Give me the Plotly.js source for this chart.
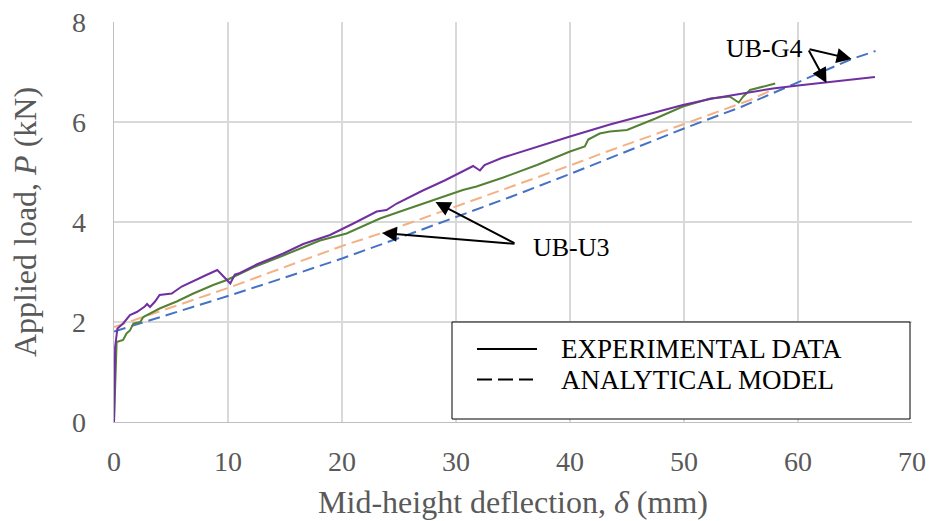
<!DOCTYPE html>
<html>
<head>
<meta charset="utf-8">
<script src="https://cdn.plot.ly/plotly-3.0.1.min.js"></script>
<style>html,body{margin:0;padding:0;background:#fff;}#chart{width:930px;height:521px;}</style>
</head>
<body>
<div id="chart"></div>
<script>
// UB-G4 experimental (purple)
const g4ExpX = [0, 0.05, 0.1, 0.3, 0.8, 1.4, 2.0, 2.7, 2.9, 3.16, 3.6, 4.0, 5.06, 5.94, 7.25, 8.1, 9.06, 10.2, 10.6, 11.05, 12.5, 14.85, 16.6, 18.95, 21.0, 23.04, 23.9, 24.8, 27.0, 29.0, 31.08, 31.5, 32.1, 32.5, 34.0, 36.2, 38.0, 40.0, 43.5, 46.0, 49.9, 52.5, 55.8, 57.8, 60.0, 62.5, 64.5, 66.75];
const g4ExpY = [0, 0.8, 1.5, 1.87, 1.97, 2.14, 2.2, 2.31, 2.36, 2.30, 2.41, 2.54, 2.57, 2.71, 2.84, 2.94, 3.04, 2.77, 2.95, 2.98, 3.15, 3.37, 3.56, 3.74, 3.97, 4.21, 4.24, 4.37, 4.62, 4.83, 5.07, 5.12, 5.03, 5.14, 5.28, 5.44, 5.57, 5.71, 5.95, 6.1, 6.34, 6.47, 6.6, 6.67, 6.73, 6.79, 6.84, 6.9];
// UB-U3 experimental (green)
const u3ExpX = [0, 0.1, 0.2, 0.23, 0.8, 1.1, 1.4, 1.7, 2.3, 2.57, 4.0, 5.5, 6.96, 8.7, 9.9, 11.05, 12.5, 14.85, 16.6, 18.07, 20.4, 23.33, 25.1, 28.0, 29.2, 30.6, 31.8, 34.15, 37.1, 40.0, 41.3, 41.6, 42.6, 43.5, 45.0, 47.5, 49.9, 52.3, 54.0, 54.8, 55.2, 55.8, 58.0];
const u3ExpY = [0, 0.78, 1.5, 1.6, 1.64, 1.77, 1.83, 1.97, 2.0, 2.1, 2.27, 2.41, 2.57, 2.74, 2.84, 2.96, 3.12, 3.33, 3.49, 3.63, 3.77, 4.07, 4.21, 4.44, 4.54, 4.64, 4.71, 4.89, 5.14, 5.41, 5.51, 5.65, 5.77, 5.81, 5.84, 6.07, 6.31, 6.47, 6.51, 6.39, 6.51, 6.64, 6.77];
// UB-U3 analytical (orange dashed)
const u3ModX = [0, 5, 10, 16.3, 20, 23.5, 30.8, 35, 40, 43.5, 50, 55.8, 57.8];
const u3ModY = [1.9, 2.29, 2.68, 3.21, 3.52, 3.78, 4.37, 4.72, 5.13, 5.43, 5.96, 6.44, 6.65];
// UB-G4 analytical (blue dashed)
const g4ModX = [0, 5, 10, 15, 20, 25, 30, 35, 40, 45, 50, 55, 60, 64.6, 66.8];
const g4ModY = [1.81, 2.16, 2.52, 2.89, 3.27, 3.68, 4.1, 4.52, 4.96, 5.41, 5.87, 6.3, 6.8, 7.25, 7.42];

const xTicks = [0, 10, 20, 30, 40, 50, 60, 70];
const yTicks = [0, 2, 4, 6, 8];
const legendLabels = ["EXPERIMENTAL DATA", "ANALYTICAL MODEL"];

const FONT = '"Liberation Serif", "Times New Roman", serif';
const W = 930, H = 521, L = 114, R = 18, T = 22, B = 99;
const pw = W - L - R, ph = H - T - B;
const px = v => (v - L) / pw;         // pixel x -> paper
const py = v => (H - B - v) / ph;     // pixel y -> paper

const traces = [
  {x: u3ModX, y: u3ModY, mode: 'lines', line: {color: '#f4b183', width: 2, dash: '12px,6px'}, showlegend: false, hoverinfo: 'skip'},
  {x: g4ModX, y: g4ModY, mode: 'lines', line: {color: '#4472c4', width: 2, dash: '12px,6px'}, showlegend: false, hoverinfo: 'skip'},
  {x: u3ExpX, y: u3ExpY, mode: 'lines', line: {color: '#548235', width: 2}, showlegend: false},
  {x: g4ExpX, y: g4ExpY, mode: 'lines', line: {color: '#7030a0', width: 2}, showlegend: false}
];

const arrow = (x, y, ax, ay) => ({x, y, ax, ay, xref: 'x', yref: 'y', axref: 'x', ayref: 'y', text: '', showarrow: true, arrowhead: 2, arrowsize: 1.5, arrowwidth: 2, arrowcolor: '#000'});

const layout = {
  width: W, height: H,
  margin: {l: L, r: R, t: T, b: B},
  paper_bgcolor: '#fff', plot_bgcolor: '#fff',
  font: {family: FONT, color: '#595959'},
  showlegend: false,
  xaxis: {
    range: [0, 70], tickvals: xTicks, ticktext: xTicks.map(String),
    showgrid: true, gridcolor: '#d9d9d9', gridwidth: 1.3,
    showline: true, linecolor: '#bfbfbf', linewidth: 1.3, mirror: false,
    zeroline: false, ticks: '', ticklabelstandoff: 14,
    tickfont: {family: FONT, size: 28, color: '#595959'},
    title: {text: 'Mid-height deflection, <i>δ</i> (mm)', font: {family: FONT, size: 32, color: '#595959'}, standoff: 14}
  },
  yaxis: {
    range: [0, 8], tickvals: yTicks, ticktext: yTicks.map(String),
    showgrid: true, gridcolor: '#d9d9d9', gridwidth: 1.3,
    showline: true, linecolor: '#bfbfbf', linewidth: 1.3,
    zeroline: false, ticks: '', ticklabelstandoff: 21,
    tickfont: {family: FONT, size: 28, color: '#595959'},
    title: {text: 'Applied load, <i>P</i> (kN)', font: {family: FONT, size: 32, color: '#595959'}, standoff: 26}
  },
  shapes: [
    {type: 'rect', xref: 'paper', yref: 'paper', x0: px(452), x1: px(910), y0: py(419), y1: py(322), line: {color: '#000', width: 1}, fillcolor: '#fff', layer: 'above'},
    {type: 'line', xref: 'paper', yref: 'paper', x0: px(477), x1: px(537), y0: py(349), y1: py(349), line: {color: '#000', width: 2}},
    {type: 'line', xref: 'paper', yref: 'paper', x0: px(477), x1: px(533), y0: py(379.5), y1: py(379.5), line: {color: '#000', width: 2, dash: '15px,6px'}}
  ],
  annotations: [
    {xref: 'paper', yref: 'paper', x: px(559), y: py(349), xanchor: 'left', yanchor: 'middle', text: legendLabels[0], showarrow: false, font: {family: FONT, size: 27, color: '#000'}},
    {xref: 'paper', yref: 'paper', x: px(559), y: py(380), xanchor: 'left', yanchor: 'middle', text: legendLabels[1], showarrow: false, font: {family: FONT, size: 27, color: '#000'}},
    {xref: 'x', yref: 'y', x: 40.13, y: 3.5, text: 'UB-U3', showarrow: false, font: {family: FONT, size: 26, color: '#000'}},
    {xref: 'x', yref: 'y', x: 57.1, y: 7.48, text: 'UB-G4', showarrow: false, font: {family: FONT, size: 26, color: '#000'}},
    arrow(28.2, 4.4, 35.26, 3.56),
    arrow(23.5, 3.78, 35.26, 3.56),
    arrow(64.7, 7.26, 60.88, 7.46),
    arrow(62.5, 6.78, 60.88, 7.46)
  ]
};

Plotly.newPlot('chart', traces, layout, {displayModeBar: false, staticPlot: true});
</script>
</body>
</html>
